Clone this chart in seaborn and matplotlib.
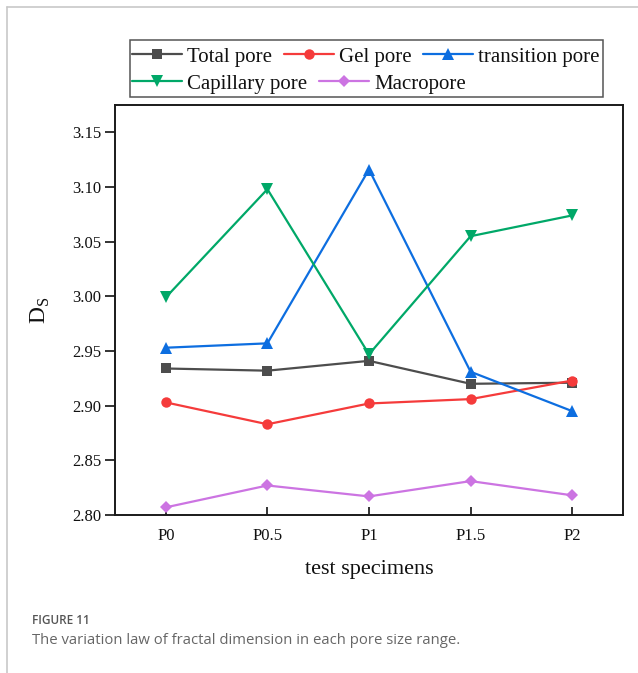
import matplotlib
matplotlib.use("Agg")
import matplotlib.pyplot as plt
from matplotlib.lines import Line2D
from matplotlib.patches import Rectangle
import seaborn as sns
import pandas as pd

# Fractal dimension D_S of each pore size range per specimen
specimens = ["P0", "P0.5", "P1", "P1.5", "P2"]
total_pore = [2.934, 2.932, 2.941, 2.920, 2.921]
gel_pore = [2.903, 2.883, 2.902, 2.906, 2.923]
transition_pore = [2.953, 2.957, 3.116, 2.931, 2.895]
capillary_pore = [2.999, 3.098, 2.947, 3.055, 3.074]
macropore = [2.807, 2.827, 2.817, 2.831, 2.818]

series_names = ["Total pore", "Gel pore", "transition pore", "Capillary pore", "Macropore"]
series_values = [total_pore, gel_pore, transition_pore, capillary_pore, macropore]
colors = ["#4d4d4d", "#f53b3b", "#0d6ee0", "#00a868", "#cc74e2"]
markers = ["s", "o", "^", "v", "D"]
marker_sizes = [7, 7.5, 8, 8, 6.5]

rows = []
for name, vals in zip(series_names, series_values):
    for i, v in enumerate(vals):
        rows.append({"series": name, "pos": i, "Ds": v})
df = pd.DataFrame(rows)

sns.set_theme(style="white")
plt.rcParams["font.family"] = ["Liberation Serif", "DejaVu Serif"]
plt.rcParams["mathtext.fontset"] = "custom"
plt.rcParams["mathtext.rm"] = "Liberation Serif"

fig = plt.figure(figsize=(6.38, 6.73), dpi=100)
ax = fig.add_axes([115 / 638, 1 - 515 / 673, 508 / 638, 410 / 673])

handles = []
for name, col, mk, ms in zip(series_names, colors, markers, marker_sizes):
    sub = df[df["series"] == name]
    sns.lineplot(data=sub, x="pos", y="Ds", ax=ax, color=col, marker=mk,
                 markersize=ms, markeredgewidth=0, linewidth=1.6, legend=False)
    handles.append(Line2D([], [], color=col, marker=mk, markersize=ms,
                          markeredgewidth=0, linewidth=1.6))

ax.set_xlim(-0.5, 4.5)
ax.set_ylim(2.80, 3.175)
ax.set_xticks(range(len(specimens)))
ax.set_xticklabels(specimens)
ax.set_yticks([2.80, 2.85, 2.90, 2.95, 3.00, 3.05, 3.10, 3.15])
ax.set_yticklabels([f"{t:.2f}" for t in ax.get_yticks()])
ax.tick_params(axis="x", direction="in", length=6, width=1.2, labelsize=12, pad=9, colors="#111111")
ax.tick_params(axis="y", direction="out", length=7, width=1.2, labelsize=12, pad=3, colors="#111111")
ax.tick_params(left=True, bottom=True)
for s in ax.spines.values():
    s.set_color("#1a1a1a")
    s.set_linewidth(1.4)

ax.set_xlabel("test specimens", fontsize=16, labelpad=12, color="#111111")
ax.set_ylabel(r"D$_\mathrm{S}$", fontsize=17, labelpad=14, color="#111111")

# Two-row legend laid out row by row inside one frame
leg_kw = dict(frameon=False, fontsize=15, handlelength=2.4, handletextpad=0.25,
              columnspacing=0.55, borderpad=0, borderaxespad=0, labelspacing=0)
leg1 = fig.legend(handles[:3], series_names[:3], ncol=3, loc="center left",
                  bbox_to_anchor=(132 / 638, 1 - 57 / 673), **leg_kw)
leg2 = fig.legend(handles[3:], series_names[3:], ncol=2, loc="center left",
                  bbox_to_anchor=(132 / 638, 1 - 84 / 673), **leg_kw)
for lg in (leg1, leg2):
    for t in lg.get_texts():
        t.set_color("#111111")
fig.add_artist(Rectangle((130 / 638, 1 - 97 / 673), 473 / 638, 57 / 673,
                         transform=fig.transFigure, fill=False,
                         edgecolor="#555555", linewidth=1.1))

# Page frame lines and caption
fig.add_artist(Line2D([7 / 638, 7 / 638], [0, 1 - 7 / 673], transform=fig.transFigure,
                      color="#c8c8c8", linewidth=1.2))
fig.add_artist(Line2D([7 / 638, 1], [1 - 7 / 673, 1 - 7 / 673], transform=fig.transFigure,
                      color="#c8c8c8", linewidth=1.2))
fig.text(32 / 638, 1 - 621 / 673, "FIGURE 11", fontsize=8.5, family="Open Sans",
         color="#555555", va="center", ha="left", fontweight="semibold")
fig.text(32 / 638, 1 - 640 / 673,
         "The variation law of fractal dimension in each pore size range.",
         fontsize=10.7, family="Open Sans", color="#666666", va="center", ha="left")

fig.savefig("out.png", dpi=100)
